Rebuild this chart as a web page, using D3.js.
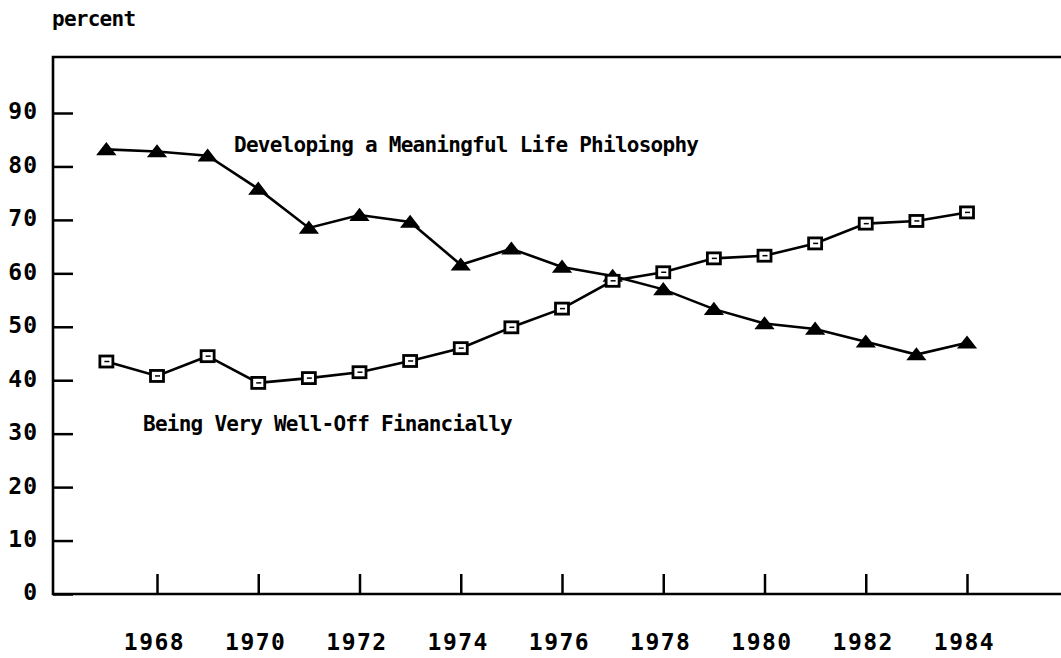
<!DOCTYPE html>
<html>
<head>
<meta charset="utf-8">
<script src="https://cdn.jsdelivr.net/npm/d3@7"></script>
<style>
  html, body { margin: 0; padding: 0; background: #fff; }
  svg { display: block; }
  text { font-family: "DejaVu Sans Mono", monospace; font-weight: bold; fill: #000; }
</style>
</head>
<body>
<svg id="chart" width="1061" height="658"></svg>
<script>
const years = [1967,1968,1969,1970,1971,1972,1973,1974,1975,1976,1977,1978,1979,1980,1981,1982,1983,1984];
const philosophy = [83.2,82.8,82.0,75.8,68.5,70.9,69.6,61.6,64.6,61.2,59.5,57.0,53.3,50.6,49.6,47.2,44.8,47.0];
const financial = [43.5,40.8,44.5,39.5,40.4,41.5,43.6,46.0,49.9,53.4,58.6,60.2,62.8,63.3,65.6,69.3,69.8,71.4];
const yTicks = [0,10,20,30,40,50,60,70,80,90];
const xTicks = [1968,1970,1972,1974,1976,1978,1980,1982,1984];
const seriesNames = ["Developing a Meaningful Life Philosophy", "Being Very Well-Off Financially"];
const yTitle = "percent";

const svg = d3.select("#chart");
const frameLeft = 53, frameTop = 57, frameBottom = 594, frameRight = 1061;

const x = d3.scaleLinear().domain([1968, 1984]).range([157, 967]);
const y = d3.scaleLinear().domain([0, 90]).range([frameBottom, 113]);

// frame (left, top, bottom; open on right)
svg.append("path")
  .attr("d", `M${frameRight},${frameTop}H${frameLeft}V${frameBottom}H${frameRight}`)
  .attr("fill", "none").attr("stroke", "#000").attr("stroke-width", 2.6);

// y axis
const yAxis = svg.append("g").attr("transform", `translate(${frameLeft},0)`)
  .call(d3.axisLeft(y).tickValues(yTicks).tickSizeInner(-20).tickSizeOuter(0).tickPadding(15).tickFormat(d3.format("d")));
yAxis.select(".domain").remove();
yAxis.selectAll("line").attr("stroke", "#000").attr("stroke-width", 2.5);
yAxis.selectAll("text").attr("font-size", 23).attr("font-family", "DejaVu Sans Mono")
  .attr("font-weight", "bold").attr("letter-spacing", 1).attr("dy", "0.26em");

// x axis
const xAxis = svg.append("g").attr("transform", `translate(0,${frameBottom})`)
  .call(d3.axisBottom(x).tickValues(xTicks).tickSizeInner(-20).tickSizeOuter(0).tickPadding(40).tickFormat(d3.format("d")));
xAxis.select(".domain").remove();
xAxis.selectAll("line").attr("stroke", "#000").attr("stroke-width", 2.5);
xAxis.selectAll("text").attr("font-size", 23).attr("font-family", "DejaVu Sans Mono")
  .attr("font-weight", "bold").attr("letter-spacing", 1.5).attr("dx", -3);

// lines
const line = d3.line().x((d, i) => x(years[i])).y(d => y(d));
svg.append("path").datum(philosophy).attr("d", line)
  .attr("fill", "none").attr("stroke", "#000").attr("stroke-width", 2.6);
svg.append("path").datum(financial).attr("d", line)
  .attr("fill", "none").attr("stroke", "#000").attr("stroke-width", 2.6);

// triangle markers
svg.append("g").selectAll("path").data(philosophy).join("path")
  .attr("d", (d, i) => {
    const cx = x(years[i]), cy = y(d);
    return `M${cx - 8.5},${cy + 5}L${cx},${cy - 6}L${cx + 8.5},${cy + 5}Z`;
  })
  .attr("fill", "#000").attr("stroke", "#000").attr("stroke-width", 1.6);

// square markers
const sq = svg.append("g").selectAll("g").data(financial).join("g")
  .attr("transform", (d, i) => `translate(${x(years[i])},${y(d)})`);
sq.append("rect").attr("x", -6.5).attr("y", -5.5).attr("width", 13).attr("height", 11)
  .attr("fill", "#fff").attr("stroke", "#000").attr("stroke-width", 2.8);
sq.append("line").attr("x1", -2).attr("x2", 3).attr("y1", 0).attr("y2", 0)
  .attr("stroke", "#000").attr("stroke-width", 1.5);

// labels
svg.append("text").attr("x", 52).attr("y", 26).attr("font-size", 21).attr("letter-spacing", -0.74).text(yTitle);
svg.append("text").attr("x", 234).attr("y", 152).attr("font-size", 21).attr("letter-spacing", -0.74).text(seriesNames[0]);
svg.append("text").attr("x", 143).attr("y", 431).attr("font-size", 21).attr("letter-spacing", -0.74).text(seriesNames[1]);
</script>
</body>
</html>
